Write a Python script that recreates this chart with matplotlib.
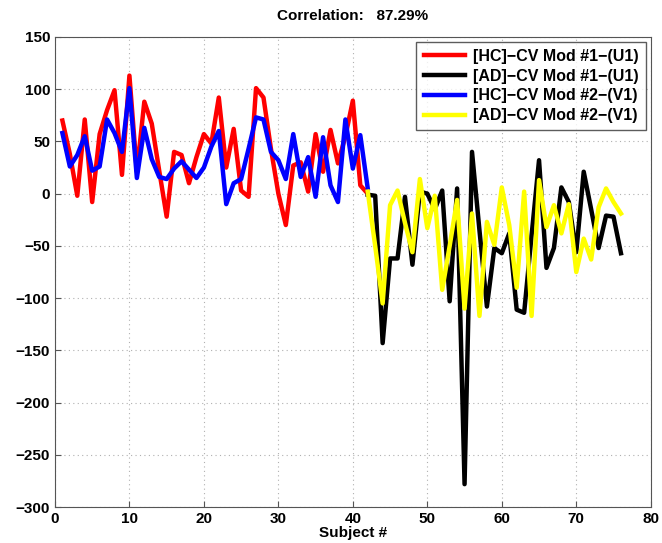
"""Recreate the HC/AD canonical variate line chart."""

import matplotlib

matplotlib.use("Agg")

import matplotlib.pyplot as plt
import numpy as np

# subjects 1..42 are HC, 42..76 are AD (shared point at 42)
hc_subjects = np.arange(1, 43)
ad_subjects = np.arange(42, 77)

hc_u1 = [70, 38, -2, 71, -8, 57, 80, 99, 18, 113, 21, 88, 67, 22, -22, 40, 37, 10, 35, 57,
         48, 92, 25, 62, 3, -3, 101, 92, 43, 0, -30, 27, 30, 2, 57, 21, 61, 29, 55, 89,
         8, 0]
hc_v1 = [58, 26, 37, 55, 22, 26, 71, 58, 40, 101, 15, 63, 33, 16, 14, 24, 31, 23, 15, 25,
         45, 60, -10, 10, 14, 43, 73, 71, 40, 32, 14, 57, 16, 35, -3, 54, 8, -8, 71, 24,
         56, 5]
ad_u1 = [-1, -2, -143, -62, -62, -3, -68, 2, 0, -15, 3, -103, 5, -278, 40, -35, -108, -52,
         -57, -38, -111, -114, -40, 32, -71, -52, 6, -8, -56, 21, -15, -52, -21, -22, -57]
ad_v1 = [2, -50, -105, -11, 3, -28, -56, 14, -33, -2, -92, -50, -6, -110, -19, -117, -27,
         -49, 6, -30, -90, 2, -117, 13, -32, -11, -38, -10, -75, -43, -63, -13, 5, -8, -19]

labels = ["[HC]\u2212CV Mod #1\u2212(U1)", "[AD]\u2212CV Mod #1\u2212(U1)",
          "[HC]\u2212CV Mod #2\u2212(V1)", "[AD]\u2212CV Mod #2\u2212(V1)"]
title = "Correlation:   87.29%"


def main() -> None:
    plt.rcParams["font.family"] = ["Liberation Sans", "DejaVu Sans"]
    plt.rcParams["font.weight"] = "bold"

    fig = plt.figure(figsize=(6.62, 5.43), dpi=100)
    ax = fig.add_axes([0.083, 0.066, 0.9, 0.866])

    lw = 3.2
    ax.plot(hc_subjects, hc_u1, color="#ff0000", lw=lw, label=labels[0])
    ax.plot(ad_subjects, ad_u1, color="#000000", lw=lw, label=labels[1])
    ax.plot(hc_subjects, hc_v1, color="#0000ff", lw=lw, label=labels[2])
    ax.plot(ad_subjects, ad_v1, color="#ffff00", lw=lw, label=labels[3])

    ax.set_xlim(0, 80)
    ax.set_ylim(-300, 150)
    ax.set_xticks(np.arange(0, 81, 10))
    ax.set_yticks(np.arange(-300, 151, 50))
    ax.tick_params(direction="in", labelsize=11, length=4, color="#555555")
    for lab in ax.get_xticklabels() + ax.get_yticklabels():
        lab.set_fontweight("bold")
    ax.grid(True, linestyle=(0, (1, 3)), color="#b0b0b0", linewidth=0.8)
    for spine in ax.spines.values():
        spine.set_color("#555555")

    ax.set_xlabel("Subject #", fontsize=11, fontweight="bold", labelpad=0)
    ax.set_title(title, fontsize=11, fontweight="bold", pad=12)

    leg = ax.legend(loc="upper right", fontsize=11.5, frameon=True, fancybox=False,
                    handlelength=2.6, borderpad=0.45, labelspacing=0.3,
                    handletextpad=0.5, borderaxespad=0.3)
    leg.get_frame().set_edgecolor("#333333")
    leg.get_frame().set_linewidth(1.0)
    for t in leg.get_texts():
        t.set_fontweight("bold")

    fig.savefig("out.png", dpi=100)
    plt.close(fig)


if __name__ == "__main__":
    main()
